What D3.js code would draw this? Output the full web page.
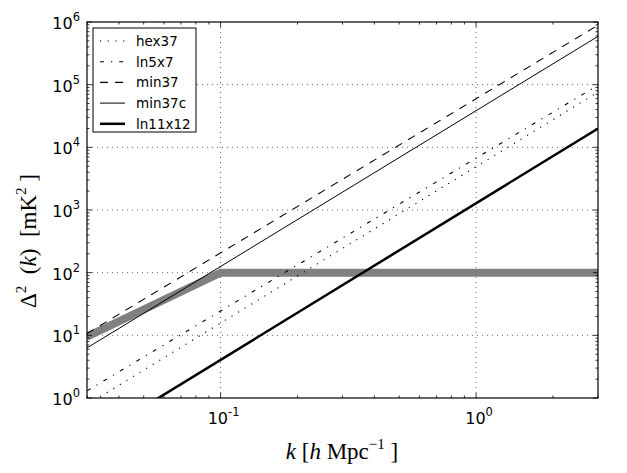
<html>
<head>
<style>
  body { margin: 0; background: #fff; }
  svg text { font-family: "DejaVu Sans", sans-serif; }
  .math { font-family: "Liberation Serif", "DejaVu Serif", serif; }
</style>
</head>
<body>
<svg id="chart" width="627" height="473"></svg>
<script src="https://cdn.jsdelivr.net/npm/d3@7/dist/d3.min.js"></script>
<script>
// values: Delta^2 at the ends of the k range
var names = ["hex37", "ln5x7", "min37", "min37c", "ln11x12"];
var kEnds = [0.03, 3];
var hex37 = [0.78, 76000];
var ln5x7 = [1.3, 98000];
var min37 = [10.7, 890000];
var min37c = [6.3, 590000];
var ln11x12 = [0.2, 20000];
// gray band (sample variance limit)
var bandK = [0.03, 0.1, 3];
var bandD = [9.5, 100, 100];
var xTicks = [0.1, 1];
var yTicks = [1, 10, 100, 1000, 10000, 100000, 1000000];

var styles = [
  { dash: "1.2,6.5", w: 1.1 },
  { dash: "4,7,1.2,7", w: 1.1 },
  { dash: "8,7", w: 1.1 },
  { dash: null, w: 1 },
  { dash: null, w: 2.5 }
];
var series = [hex37, ln5x7, min37, min37c, ln11x12];

var L = 87, R = 598, T = 22, B = 398;
var svg = d3.select("#chart");
var x = d3.scaleLog().domain([0.03, 3]).range([L, R]);
var y = d3.scaleLog().domain([1, 1e6]).range([B, T]);

svg.append("defs").append("clipPath").attr("id", "clip")
  .append("rect").attr("x", L).attr("y", T).attr("width", R - L).attr("height", B - T);

// grid
var grid = svg.append("g").attr("stroke", "#000").attr("stroke-width", 0.6).attr("stroke-dasharray", "1,4");
xTicks.forEach(function (t) {
  grid.append("line").attr("x1", x(t)).attr("x2", x(t)).attr("y1", T).attr("y2", B);
});
yTicks.slice(1, -1).forEach(function (t) {
  grid.append("line").attr("x1", L).attr("x2", R).attr("y1", y(t)).attr("y2", y(t));
});

var plot = svg.append("g").attr("clip-path", "url(#clip)");
var line = d3.line().x(function (d) { return x(d[0]); }).y(function (d) { return y(d[1]); });

plot.append("path")
  .attr("d", line(d3.zip(bandK, bandD)))
  .attr("fill", "none").attr("stroke", "#808080").attr("stroke-width", 8);

series.forEach(function (s, i) {
  plot.append("path")
    .attr("d", line(d3.zip(kEnds, s)))
    .attr("fill", "none").attr("stroke", "#000")
    .attr("stroke-width", styles[i].w)
    .attr("stroke-dasharray", styles[i].dash);
});

// ticks on all four sides, pointing inward
function minorTicks(scale) {
  var d = scale.domain(), out = [];
  var lo = Math.floor(Math.log10(d[0])), hi = Math.ceil(Math.log10(d[1]));
  for (var e = lo; e <= hi; e++) {
    for (var m = 2; m <= 9; m++) {
      var v = m * Math.pow(10, e);
      if (v >= d[0] && v <= d[1]) out.push(v);
    }
  }
  return out;
}
var tk = svg.append("g").attr("stroke", "#000").attr("stroke-width", 0.8);
function xt(v, len) {
  tk.append("line").attr("x1", x(v)).attr("x2", x(v)).attr("y1", B).attr("y2", B - len);
  tk.append("line").attr("x1", x(v)).attr("x2", x(v)).attr("y1", T).attr("y2", T + len);
}
function yt(v, len) {
  tk.append("line").attr("y1", y(v)).attr("y2", y(v)).attr("x1", L).attr("x2", L + len);
  tk.append("line").attr("y1", y(v)).attr("y2", y(v)).attr("x1", R).attr("x2", R - len);
}
xTicks.forEach(function (v) { xt(v, 5); });
minorTicks(x).forEach(function (v) { xt(v, 2.5); });
yTicks.forEach(function (v) { yt(v, 5); });
minorTicks(y).forEach(function (v) { yt(v, 2.5); });

svg.append("rect").attr("x", L).attr("y", T).attr("width", R - L).attr("height", B - T)
  .attr("fill", "none").attr("stroke", "#000").attr("stroke-width", 1.2);

// tick labels
function powLabel(g, exp, anchor) {
  var t = g.append("text").attr("font-size", 16).attr("text-anchor", anchor);
  t.append("tspan").text("10");
  t.append("tspan").attr("dy", -8).attr("font-size", 11.5).text(exp);
  return t;
}
xTicks.forEach(function (v) {
  var e = Math.round(Math.log10(v));
  powLabel(svg, String(e), "middle").attr("x", x(v) + 3).attr("y", B + 26);
});
yTicks.forEach(function (v) {
  var e = Math.round(Math.log10(v));
  powLabel(svg, String(e), "end").attr("x", L - 7).attr("y", y(v) + 7);
});

// axis labels
var xl = svg.append("text").attr("class", "math").attr("font-size", 23)
  .attr("text-anchor", "middle").attr("x", 342).attr("y", 459);
xl.append("tspan").attr("font-style", "italic").text("k");
xl.append("tspan").text(" [");
xl.append("tspan").attr("font-style", "italic").text("h");
xl.append("tspan").text(" Mpc");
xl.append("tspan").attr("dy", -10).attr("font-size", 15).text("\u22121");
xl.append("tspan").attr("dy", 10).text(" ]");

var yl = svg.append("text").attr("class", "math").attr("font-size", 23)
  .attr("text-anchor", "middle").attr("transform", "translate(36,241) rotate(-90)");
yl.append("tspan").text("\u0394");
yl.append("tspan").attr("dy", -10).attr("font-size", 15).text("2");
yl.append("tspan").attr("dy", 10).text("\u2002(");
yl.append("tspan").attr("font-style", "italic").text("k");
yl.append("tspan").text(")\u2002[mK");
yl.append("tspan").attr("dy", -10).attr("font-size", 15).text("2");
yl.append("tspan").attr("dy", 10).text(" ]");

// legend
var lg = svg.append("g");
lg.append("rect").attr("x", 93).attr("y", 28).attr("width", 103).attr("height", 104)
  .attr("fill", "#fff").attr("stroke", "#000").attr("stroke-width", 1);
names.forEach(function (n, i) {
  var yy = 41 + i * 20.7;
  lg.append("line").attr("x1", 100).attr("x2", 125).attr("y1", yy).attr("y2", yy)
    .attr("stroke", "#000").attr("stroke-width", styles[i].w)
    .attr("stroke-dasharray", styles[i].dash);
  lg.append("text").attr("x", 136).attr("y", yy + 5).attr("font-size", 13.5).text(n);
});
</script>
</body>
</html>
